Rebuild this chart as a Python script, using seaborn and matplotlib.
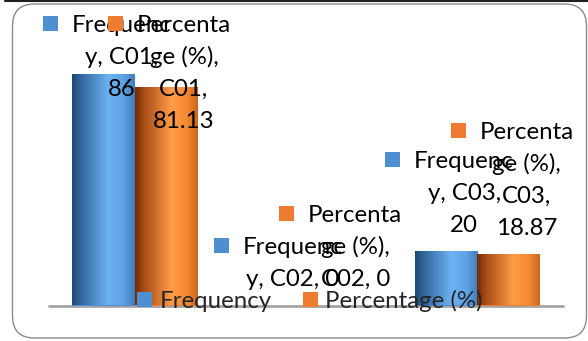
import numpy as np
import pandas as pd
import seaborn as sns
import matplotlib.pyplot as plt
from matplotlib.colors import to_rgb
from matplotlib.patches import Rectangle, FancyBboxPatch
from matplotlib.lines import Line2D
from matplotlib.transforms import IdentityTransform

# ---- data ----
categories = ["C01", "C02", "C03"]
series = ["Frequency", "Percentage (%)"]
frequency = [86, 0, 20]
percentage = [81.13, 0, 18.87]

sns.set_style("white")
plt.rcParams["font.family"] = ["Lato", "DejaVu Sans"]

W, H, DPI = 588, 341, 100
FS = 17.3          # label / legend font size in points
BLUE, ORANGE = "#4d8fd1", "#ee7b30"

df = pd.DataFrame({
    "category": categories * 2,
    "series": [series[0]] * len(categories) + [series[1]] * len(categories),
    "value": frequency + percentage,
})

fig = plt.figure(figsize=(W / DPI, H / DPI), dpi=DPI)
fig.patch.set_facecolor("white")
ax = fig.add_axes([49 / W, 35.5 / H, 514 / W, 268 / H])

sns.barplot(data=df, x="category", y="value", hue="series", hue_order=series,
            palette=[BLUE, ORANGE], width=0.73, gap=0, saturation=1,
            linewidth=0, ax=ax, legend=True, zorder=2)

# cylinder-like horizontal shading on each bar
shades = {
    series[0]: [(0.0, "#1d4670"), (0.12, "#2f6398"), (0.58, "#6cb2f2"),
                (0.82, "#5ea3e4"), (1.0, "#3f7dbd")],
    series[1]: [(0.0, "#6e2a06"), (0.12, "#a24812"), (0.58, "#ff9c48"),
                (0.82, "#f58a33"), (1.0, "#c9661e")],
}


def gradient(stops, n=256):
    pos = [p for p, _ in stops]
    cols = np.array([to_rgb(c) for _, c in stops])
    xs = np.linspace(0, 1, n)
    return np.dstack([np.interp(xs, pos, cols[:, k]) for k in range(3)])


for name, cont in zip(series, ax.containers):
    g = gradient(shades[name])
    for bar in cont.patches:
        h = bar.get_height()
        if h > 0:
            x0 = bar.get_x()
            ax.imshow(g, extent=[x0, x0 + bar.get_width(), 0, h], aspect="auto",
                      interpolation="bilinear", zorder=2.1)

ax.set_xlim(-0.5, len(categories) - 0.5)
ax.set_ylim(0, 100)
ax.axis("off")
ax.axhline(0, color="#a5a5a5", lw=2.0, clip_on=False, zorder=1)

sns.move_legend(ax, "lower center", bbox_to_anchor=(310 / W, 29 / H),
                bbox_transform=fig.transFigure, ncol=2, title=None,
                frameon=False, fontsize=FS, handlelength=0.625,
                handleheight=0.625, handletextpad=0.3, columnspacing=1.3,
                borderpad=0, borderaxespad=0)
ax.get_legend().set_zorder(20)

# ---- data labels: "series, category, value" wrapped, with a legend key ----
renderer = fig.canvas.get_renderer()


def text_width(s):
    t = fig.text(0, 0, s, fontsize=FS)
    w = t.get_window_extent(renderer).width
    t.remove()
    return w


def wrap(s, limit=101):
    lines, cur = [], ""
    for word in s.split(" "):
        cand = word if not cur else cur + " " + word
        if text_width(cand) <= limit:
            cur = cand
            continue
        if cur:
            lines.append(cur)
            cur = ""
        while text_width(word) > limit:
            k = len(word) - 1
            while k > 1 and text_width(word[:k]) > limit:
                k -= 1
            lines.append(word[:k])
            word = word[k:]
        cur = word
    if cur:
        lines.append(cur)
    return lines


LINE = 32
to_px = ax.transData.transform
z = 10
for name, cont, vals, key_color in zip(series, ax.containers,
                                       [frequency, percentage], [BLUE, ORANGE]):
    for bar, cat, v in zip(cont.patches, categories, vals):
        lines = wrap(f"{name}, {cat}, {v:g}")
        cx = bar.get_x() + bar.get_width() / 2
        px, py = to_px((cx, bar.get_height()))
        px += 18
        first = py + 20 + LINE * (len(lines) - 1)
        first = min(first, H - 32)
        for i, line in enumerate(lines):
            fig.text(px / W, (first - i * LINE) / H, line, ha="center",
                     va="baseline", fontsize=FS, color="black", zorder=z)
        w0 = text_width(lines[0])
        fig.add_artist(Rectangle((px - w0 / 2 - 14 - 15, first + 1), 15, 15,
                                 transform=IdentityTransform(),
                                 facecolor=key_color, edgecolor="none", zorder=z))
    z += 1

# ---- chart frame ----
fig.add_artist(FancyBboxPatch((12.5, 3), 574, 334,
                              boxstyle="round,pad=0,rounding_size=22",
                              transform=IdentityTransform(), fill=False,
                              edgecolor="#8a8a8a", lw=1.0, zorder=0.5))
fig.add_artist(Line2D([5, 588], [340, 340], transform=IdentityTransform(),
                      color="#202020", lw=1.5, zorder=0.5))

fig.savefig("out.png", dpi=DPI, facecolor="white")
